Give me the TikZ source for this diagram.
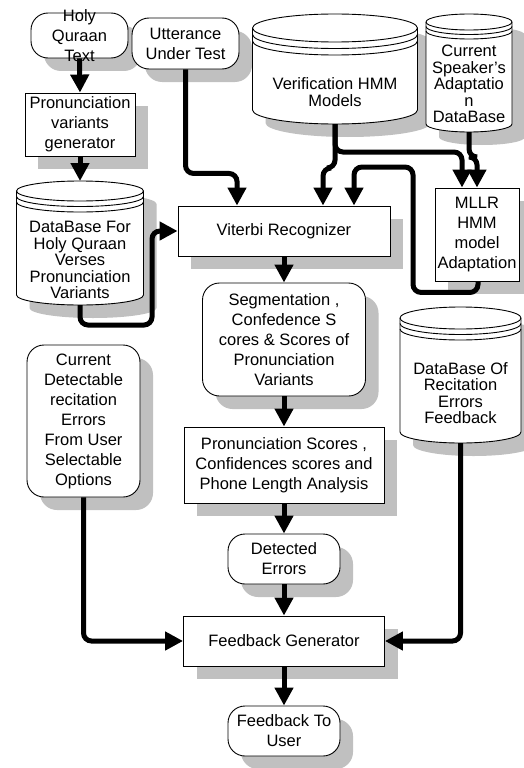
\documentclass[tikz,border=0pt]{standalone}
\usepackage{fontspec}
\setmainfont{Liberation Sans}
\usetikzlibrary{arrows.meta,shadows}
\definecolor{shc}{HTML}{C0C0C0}
\newcommand\ff{\fontsize{16.5}{20}\selectfont}
\newcommand\cf{\fontsize{16.5}{16.5}\selectfont}
% name, cx, top, bottom, rx, ry, gap, text-y, text
\newcommand\dbcyl[9]{%
  \fill[shc] (#2-#5+13,-#3-#6-13) -- (#2-#5+13,-#4+#6-13)
    arc[start angle=180,end angle=360,x radius=#5,y radius=#6]
    -- (#2+#5+13,-#3-#6-13)
    arc[start angle=0,end angle=180,x radius=#5,y radius=#6] -- cycle;
  \filldraw[fill=white,line width=0.9pt] (#2-#5,-#3-#6) -- (#2-#5,-#4+#6)
    arc[start angle=180,end angle=360,x radius=#5,y radius=#6]
    -- (#2+#5,-#3-#6)
    arc[start angle=0,end angle=180,x radius=#5,y radius=#6] -- cycle;
  \draw[line width=0.9pt] (#2-#5,-#3-#6) arc[start angle=180,end angle=360,x radius=#5,y radius=#6];
  \draw[line width=0.9pt] (#2-#5,-#3-#6-#7) arc[start angle=180,end angle=360,x radius=#5,y radius=#6];
  \draw[line width=0.9pt] (#2-#5,-#3-#6-2*#7) arc[start angle=180,end angle=360,x radius=#5,y radius=#6];
  \coordinate (#1-t) at (#2,-#3);
  \coordinate (#1-b) at (#2,-#4);
  \node[ctext] (#1) at (#2,-#8) {#9};
}
\tikzset{
  base/.style={draw, fill=white, line width=0.9pt, inner sep=0pt, align=center, font=\ff,
    drop shadow={shadow xshift=13pt,shadow yshift=-13pt,fill=shc,opacity=1}},
  rbox/.style={base, rectangle},
  term/.style={base, rectangle, rounded corners=17pt},
  ctext/.style={align=center, font=\cf, inner sep=0pt},
  conn/.style={line width=5pt, rounded corners=8pt, -{Triangle[length=18pt,width=18pt]}},
}
\begin{document}
\begin{tikzpicture}[x=1pt,y=1pt]
\useasboundingbox (0,0) rectangle (523,-768);
\fill[white] (0,0) rectangle (523,-768);

% terminals and boxes
\node[term, minimum width=97pt, minimum height=45pt] (holy) at (79.5,-35.5) {};
\node[ctext, font=\ff] (holyt) at (holy.center) {Holy\\Quraan\\Text};
\node[term, minimum width=107pt, minimum height=51pt] (utt) at (185.5,-43.5) {Utterance\\Under Test};
\node[rbox, minimum width=110pt, minimum height=63pt] (pvg) at (80,-124.5) {Pronunciation\\variants\\generator};

% cylinders
\dbcyl{ver}{335}{14}{124}{82.5}{14}{6.5}{92}{Verification HMM\\Models}
\dbcyl{spk}{469}{14}{132}{43}{8}{4.5}{84}{Current\\Speaker's\\Adaptatio\\n\\DataBase}
\dbcyl{dbh}{80}{181}{305}{63.5}{10}{5.5}{260}{DataBase For\\Holy Quraan\\Verses\\Pronunciation\\Variants}

\node[rbox, minimum width=212pt, minimum height=50pt] (vit) at (284,-231) {Viterbi Recognizer};
\node[rbox, minimum width=84pt, minimum height=93pt] (mllr) at (477,-234.5) {MLLR\\HMM\\model\\Adaptation};
\node[term, minimum width=163pt, minimum height=113pt] (seg) at (284,-339.5) {Segmentation ,\\Confedence S\\cores \& Scores of\\Pronunciation\\Variants};

\dbcyl{dbr}{460.5}{307}{443}{60.5}{11}{5.5}{393}{DataBase Of\\Recitation\\Errors\\Feedback}

\node[term, minimum width=113pt, minimum height=152pt] (cur) at (83.5,-421) {Current\\Detectable\\recitation\\Errors\\From User\\Selectable\\Options};
\node[rbox, minimum width=200pt, minimum height=76pt] (ps) at (284,-465) {Pronunciation Scores ,\\Confidences scores and\\Phone Length Analysis};
\node[term, minimum width=112pt, minimum height=50pt] (det) at (284,-559) {Detected\\Errors};
\node[rbox, minimum width=201pt, minimum height=50pt] (fg) at (284,-641) {Feedback Generator};
\node[term, minimum width=112pt, minimum height=50pt] (ftu) at (284,-731) {Feedback To\\User};

% connectors
\draw[conn] (holy.south) -- (pvg.north);
\draw[conn] (pvg.south) -- (dbh-t);
\draw[conn] (utt.south) -- ++(0,-104) -| ([xshift=-47pt]vit.north);
\draw[conn] (ver-b) -- ++(0,-44) -| ([xshift=39pt]vit.north);
\draw[conn] (ver-b) -- ++(0,-28) -| ([xshift=-15pt]mllr.north);
\draw[conn] (spk-b) -- ++(0,-25) -| (mllr.north);
\draw[conn] ([xshift=1pt]mllr.south) -- ++(0,-11) -| (413,-167) -| ([xshift=70pt]vit.north);
\draw[conn] (dbh-b) -- ++(0,-20) -- ++(72,0) |- (vit.west);
\draw[conn] (vit.south) -- (seg.north);
\draw[conn] (seg.south) -- (ps.north);
\draw[conn] (ps.south) -- (det.north);
\draw[conn] (det.south) -- (fg.north);
\draw[conn] (cur.south) |- (fg.west);
\draw[conn] (dbr-b) |- (fg.east);
\draw[conn] (fg.south) -- (ftu.north);
\end{tikzpicture}
\end{document}
